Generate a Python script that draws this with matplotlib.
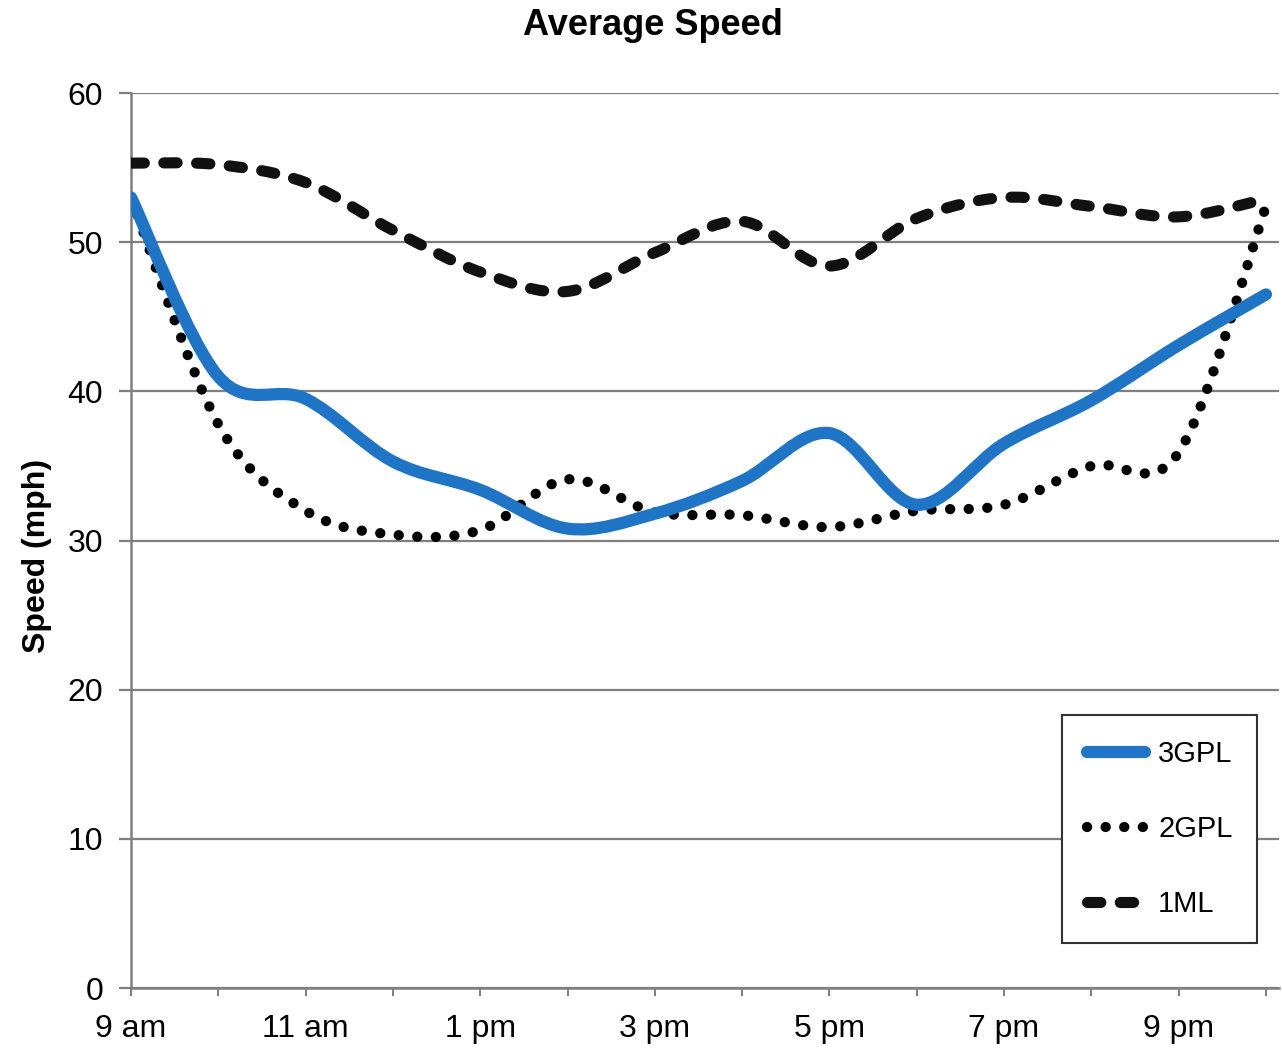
import matplotlib.pyplot as plt
from matplotlib.path import Path
from matplotlib.patches import PathPatch
from matplotlib.lines import Line2D

plt.rcParams['font.family'] = ['Liberation Sans', 'DejaVu Sans']

# hours after 9 am (0 = 9 am ... 13 = 10 pm)
hours = list(range(14))
tick_labels = ['9 am', '11 am', '1 pm', '3 pm', '5 pm', '7 pm', '9 pm']

speed_3gpl = [53.0, 41.0, 39.5, 35.3, 33.4, 30.8, 31.8, 34.0, 37.2, 32.4, 36.5, 39.4, 43.1, 46.5]
speed_2gpl = [53.0, 37.8, 32.0, 30.4, 30.7, 34.1, 31.9, 31.7, 30.9, 32.0, 32.4, 35.0, 35.9, 52.4]
speed_1ml = [55.3, 55.2, 54.0, 50.8, 48.0, 46.7, 49.3, 51.4, 48.4, 51.6, 53.0, 52.4, 51.7, 52.9]

BLUE = '#1f74c6'
GRID = '#7f7f7f'


def smooth_path(xs, ys):
    # smoothed line like a spreadsheet chart: cubic Bezier through every point
    verts = [(xs[0], ys[0])]
    codes = [Path.MOVETO]
    n = len(xs)
    for i in range(n - 1):
        xa, ya = (xs[i - 1], ys[i - 1]) if i > 0 else (xs[i], ys[i])
        xb, yb = (xs[i + 2], ys[i + 2]) if i + 2 < n else (xs[i + 1], ys[i + 1])
        c1 = (xs[i] + (xs[i + 1] - xa) / 6, ys[i] + (ys[i + 1] - ya) / 6)
        c2 = (xs[i + 1] - (xb - xs[i]) / 6, ys[i + 1] - (yb - ys[i]) / 6)
        verts += [c1, c2, (xs[i + 1], ys[i + 1])]
        codes += [Path.CURVE4] * 3
    return Path(verts, codes)


fig = plt.figure(figsize=(12.82, 10.5), dpi=100)
ax = fig.add_axes([0.1022, 0.059, 0.8955, 0.8524])

styles = {
    '3GPL': dict(color=BLUE, lw=8.8, ls='-'),
    '2GPL': dict(color='black', lw=7.4, ls=(0, (0.01, 1.8))),
    '1ML': dict(color='#111111', lw=8.0, ls=(0, (1.2, 1.75))),
}
series = [('3GPL', speed_3gpl), ('2GPL', speed_2gpl), ('1ML', speed_1ml)]

for name, vals in series[::-1]:
    st = styles[name]
    patch = PathPatch(smooth_path(hours, vals), fill=False, edgecolor=st['color'],
                      linewidth=st['lw'], linestyle=st['ls'], capstyle='round',
                      joinstyle='round', zorder=3)
    ax.add_patch(patch)

ax.set_xlim(0, 13.15)
ax.set_ylim(0, 60)
ax.set_yticks(range(0, 61, 10))
ax.set_xticks(range(0, 13, 2))
ax.set_xticks(range(0, 14), minor=True)
ax.set_xticklabels(tick_labels)

ax.grid(axis='y', color=GRID, lw=1.6, zorder=0)
ax.set_axisbelow(True)
for s in ['top', 'right']:
    ax.spines[s].set_visible(False)
for s in ['left', 'bottom']:
    ax.spines[s].set_color(GRID)
    ax.spines[s].set_linewidth(1.8)

ax.tick_params(axis='y', length=9, width=1.6, color=GRID, pad=11, labelsize=23)
ax.tick_params(axis='x', which='both', length=6, width=1.4, color=GRID, pad=13, labelsize=23)

fig.text(0.509, 1 - 35 / 1050, 'Average Speed', ha='center', va='baseline',
         fontsize=26, fontweight='bold')
fig.text(0.029, 0.471, 'Speed (mph)', ha='center', va='center', rotation=90,
         fontsize=23, fontweight='bold')

handles = [Line2D([], [], color=styles[n]['color'], lw=styles[n]['lw'], ls=styles[n]['ls'],
                  dash_capstyle='round', solid_capstyle='round') for n, _ in series]
leg = ax.legend(handles, [n for n, _ in series], loc='upper left',
                bbox_to_anchor=(1062 / 1282, 1 - 715 / 1050), bbox_transform=fig.transFigure,
                fontsize=21, frameon=True, fancybox=False, framealpha=1, borderaxespad=0,
                handlelength=2.0, handletextpad=0.45, borderpad=0.85, labelspacing=1.62)
leg.get_frame().set_edgecolor('#333333')
leg.get_frame().set_linewidth(1.5)

fig.savefig('out.png', dpi=100)
